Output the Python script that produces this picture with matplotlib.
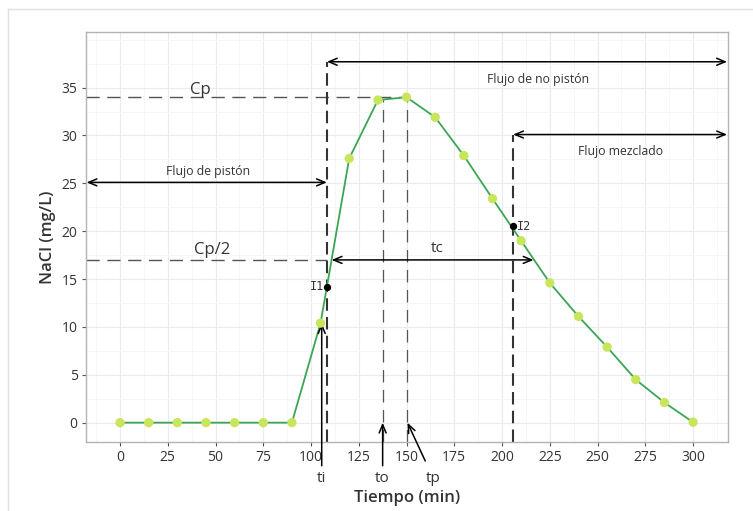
import matplotlib
matplotlib.use("Agg")
import matplotlib.pyplot as plt
from matplotlib.lines import Line2D
from matplotlib.ticker import MultipleLocator

plt.rcParams['font.family'] = ['Open Sans', 'DejaVu Sans']

# data
tiempo = [0, 15, 30, 45, 60, 75, 90, 105, 120, 135, 150, 165, 180, 195, 210, 225, 240, 255, 270, 285, 300]
nacl = [0, 0, 0, 0, 0, 0, 0, 10.4, 27.6, 33.7, 34.0, 31.9, 27.9, 23.4, 19.0, 14.6, 11.1, 7.9, 4.5, 2.1, 0.05]
xticks = [0, 25, 50, 75, 100, 125, 150, 175, 200, 225, 250, 275, 300]
yticks = [0, 5, 10, 15, 20, 25, 30, 35]

cp = 34.0
cp2 = 17.0
ti_x = 108.3
i1_y = 14.2
i2_x = 205.8
i2_y = 20.5
to_x = 137.5
tp_x = 150.5
tc_x0, tc_x1 = 110.8, 216.5
xmin, xmax = -17.8, 318.3
ymin, ymax = -2.02, 40.81
y_noflow = 37.7
y_mix = 30.1
y_pist = 25.1

fig = plt.figure(figsize=(7.53, 5.11), dpi=100)
# screenshot frame lines
fig.add_artist(Line2D([8/753, 8/753], [0, 1 - 9/511], color='#e0e0e0', lw=1))
fig.add_artist(Line2D([8/753, 1], [1 - 9/511, 1 - 9/511], color='#e0e0e0', lw=1))

ax = fig.add_axes([86/753, 1 - 442/511, 642/753, 410/511])
ax.set_xlim(xmin, xmax)
ax.set_ylim(ymin, ymax)

ax.set_xticks(xticks)
ax.set_yticks(yticks)
ax.xaxis.set_minor_locator(MultipleLocator(12.5))
ax.yaxis.set_minor_locator(MultipleLocator(2.5))
ax.grid(which='major', color='#ebebeb', lw=0.8)
ax.grid(which='minor', color='#f5f5f5', lw=0.6)
ax.set_axisbelow(True)
for s in ax.spines.values():
    s.set_color('#b3b3b3')
    s.set_linewidth(1.0)
ax.tick_params(which='major', length=3, color='#555555', labelsize=10, labelcolor='#333333', pad=3)
ax.tick_params(which='minor', length=0)

dcol = '#555555'
# dashed reference lines
ax.plot([xmin, tp_x], [cp, cp], ls=(0, (9.5, 5.5)), color=dcol, lw=1.0)
ax.plot([xmin, ti_x], [cp2, cp2], ls=(0, (9.5, 5.5)), color=dcol, lw=1.0)
ax.plot([ti_x, ti_x], [ymin, y_noflow], ls=(0, (6, 3)), color='#333333', lw=1.5)
ax.plot([i2_x, i2_x], [ymin, y_mix], ls=(0, (6, 3)), color='#333333', lw=1.5)
ax.plot([to_x, to_x], [ymin, 33.7], ls=(0, (10, 6)), color=dcol, lw=0.9)
ax.plot([tp_x, tp_x], [ymin, cp], ls=(0, (10, 6)), color=dcol, lw=0.9)

# curve
ax.plot(tiempo, nacl, color='#3aa655', lw=1.3, zorder=3)
ax.scatter(tiempo, nacl, s=45, color='#c9e55c', edgecolors='none', zorder=4)

# I1, I2 points
ax.scatter([ti_x, i2_x], [i1_y, i2_y], s=18, color='black', zorder=5)
ax.text(ti_x - 1.5, i1_y, 'I1', ha='right', va='center', fontsize=8.5,
        family='DejaVu Sans Mono', color='#333333')
ax.text(i2_x + 2, i2_y, 'I2', ha='left', va='center', fontsize=8.5,
        family='DejaVu Sans Mono', color='#333333')

arrow_kw = dict(arrowstyle='<->,head_length=0.6,head_width=0.25', color='black', lw=1.1,
                shrinkA=0, shrinkB=0)
ax.annotate('', xy=(xmax - 0.5, y_noflow), xytext=(ti_x, y_noflow), arrowprops=arrow_kw)
ax.annotate('', xy=(xmax - 0.5, y_mix), xytext=(i2_x, y_mix), arrowprops=arrow_kw)
ax.annotate('', xy=(ti_x, y_pist), xytext=(xmin + 0.3, y_pist), arrowprops=arrow_kw)
ax.annotate('', xy=(tc_x1, cp2), xytext=(tc_x0, cp2), arrowprops=arrow_kw)

ax.text(218.8, 35.9, 'Flujo de no pistón', ha='center', va='center', fontsize=8.8, color='#333333')
ax.text(261.8, 28.3, 'Flujo mezclado', ha='center', va='center', fontsize=8.8, color='#333333')
ax.text(46, 26.2, 'Flujo de pistón', ha='center', va='center', fontsize=8.8, color='#333333')
ax.text(42, 34.8, 'Cp', ha='center', va='center', fontsize=12, color='#333333')
ax.text(48, 18.0, 'Cp/2', ha='center', va='center', fontsize=12, color='#333333')
ax.text(166, 18.2, 'tc', ha='center', va='center', fontsize=11, color='#333333')

one_kw = dict(arrowstyle='->,head_length=0.6,head_width=0.25', color='black', lw=1.1,
              shrinkA=0, shrinkB=0)
ax.annotate('', xy=(105.6, 10.4), xytext=(105.6, -4.5), arrowprops=one_kw, annotation_clip=False)
ax.annotate('', xy=(to_x, 0.0), xytext=(to_x, -4.5), arrowprops=one_kw, annotation_clip=False)
ax.annotate('', xy=(tp_x, 0.0), xytext=(159.8, -4.0), arrowprops=one_kw, annotation_clip=False)
ax.text(105.6, -5.8, 'ti', ha='center', va='center', fontsize=11, color='#333333', clip_on=False)
ax.text(to_x, -5.8, 'to', ha='center', va='center', fontsize=11, color='#333333', clip_on=False)
ax.text(164, -5.8, 'tp', ha='center', va='center', fontsize=11, color='#333333', clip_on=False)

ax.set_xlabel('Tiempo (min)', fontsize=12, fontweight='semibold', color='#333333', labelpad=18)
ax.set_ylabel('NaCl (mg/L)', fontsize=12, fontweight='semibold', color='#333333', labelpad=4)

fig.savefig('out.png', dpi=100)
